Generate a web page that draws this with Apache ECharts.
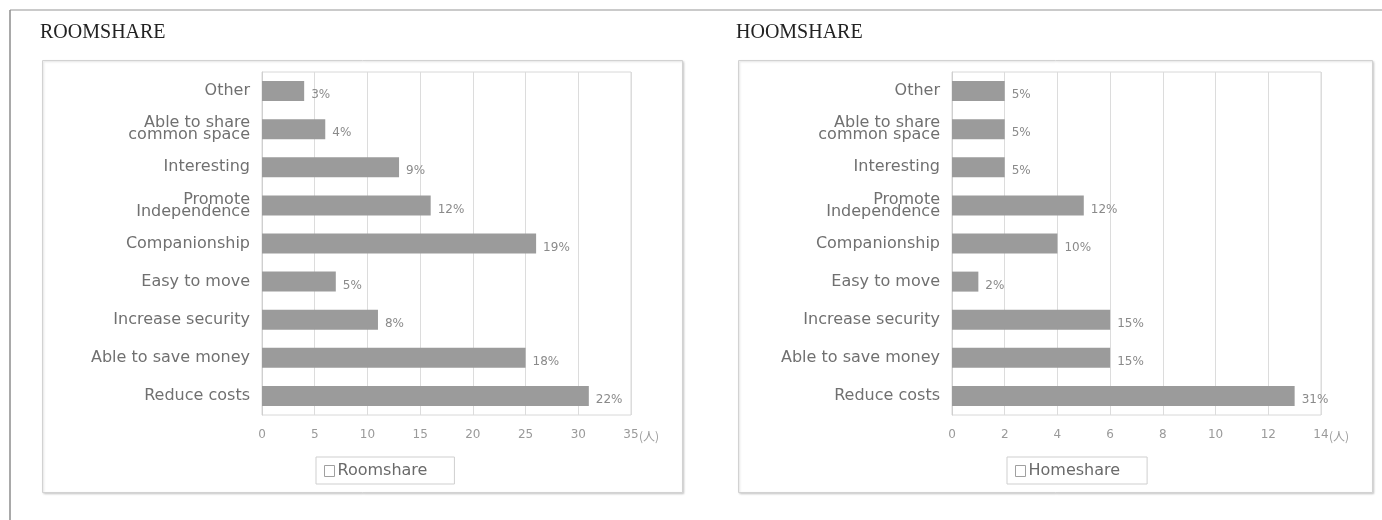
<!DOCTYPE html>
<html>
<head>
<meta charset="utf-8">
<script src="https://cdn.jsdelivr.net/npm/echarts@6/dist/echarts.min.js"></script>
<style>
html,body{margin:0;padding:0;background:#fff;}
#c{width:1382px;height:520px;}
</style>
</head>
<body>
<div id="c"></div>
<script>
const categories = ['Other', 'Able to share\ncommon space', 'Interesting', 'Promote\nIndependence', 'Companionship', 'Easy to move', 'Increase security', 'Able to save money', 'Reduce costs'];
const roomValues = [4, 6, 13, 16, 26, 7, 11, 25, 31];
const roomPct = ['3%', '4%', '9%', '12%', '19%', '5%', '8%', '18%', '22%'];
const homeValues = [2, 2, 2, 5, 4, 1, 6, 6, 13];
const homePct = ['5%', '5%', '5%', '12%', '10%', '2%', '15%', '15%', '31%'];
const roomTicks = {min: 0, max: 35, interval: 5};
const homeTicks = {min: 0, max: 14, interval: 2};
const titles = ['ROOMSHARE', 'HOOMSHARE'];
const seriesNames = ['Roomshare', 'Homeshare'];
const unitLabel = '(人)';

const chart = echarts.init(document.getElementById('c'), null, {renderer: 'canvas'});
const sans = 'DejaVu Sans';

function xAxis(idx, t) {
  return {
    type: 'value', gridIndex: idx, min: t.min, max: t.max, interval: t.interval,
    axisLine: {show: false}, axisTick: {show: false},
    splitLine: {show: true, lineStyle: {color: '#dcdcdc', width: 1}},
    axisLabel: {color: '#9a9a9a', fontSize: 12, margin: 14, fontFamily: sans},
    name: unitLabel, nameLocation: 'end', nameGap: 8, nameMoveOverlap: false,
    nameTextStyle: {color: '#9a9a9a', fontSize: 12, fontFamily: 'Noto Sans CJK JP', verticalAlign: 'top', lineHeight: 42}
  };
}
function yAxis(idx) {
  return {
    type: 'category', gridIndex: idx, data: categories, inverse: true,
    axisLine: {show: true, lineStyle: {color: '#cfcfcf'}}, axisTick: {show: false},
    axisLabel: {color: '#707070', fontSize: 16, lineHeight: 12, margin: 12, fontFamily: sans}
  };
}
function series(idx, vals, pct, name) {
  return {
    type: 'bar', name: name, xAxisIndex: idx, yAxisIndex: idx, data: vals,
    barWidth: 20, itemStyle: {color: '#9b9b9b'},
    label: {show: true, position: 'right', distance: 7, offset: [0, 4],
      fontSize: 12, color: '#8a8a8a', fontFamily: sans,
      formatter: p => pct[p.dataIndex]}
  };
}
function legend(left, name) {
  return {
    left: left, top: 457, orient: 'horizontal',
    data: [{name: name, icon: 'rect', itemStyle: {color: '#fff', borderColor: '#a0a0a0', borderWidth: 1}}],
    itemWidth: 10, itemHeight: 11, itemGap: 4,
    borderColor: '#cfcfcf', borderWidth: 1, borderRadius: 0,
    padding: [6, 27, 5, 8],
    textStyle: {color: '#6a6a6a', fontSize: 16, fontFamily: sans, padding: [0, 0, 0, -2]},
    selectedMode: false
  };
}

const option = {
  backgroundColor: '#fff',
  animation: false,
  title: [
    {text: titles[0], left: 40, top: 23, padding: 0, textStyle: {fontFamily: 'Liberation Serif', fontSize: 20, fontWeight: 'normal', color: '#222'}},
    {text: titles[1], left: 736, top: 23, padding: 0, textStyle: {fontFamily: 'Liberation Serif', fontSize: 20, fontWeight: 'normal', color: '#222'}}
  ],
  graphic: [
    {type: 'line', shape: {x1: 10, y1: 10, x2: 1382, y2: 10}, style: {stroke: '#b8b8b8', lineWidth: 1.5}, z: -10, silent: true},
    {type: 'line', shape: {x1: 10, y1: 10, x2: 10, y2: 520}, style: {stroke: '#8c8c8c', lineWidth: 1.5}, z: -10, silent: true},
    {type: 'rect', shape: {x: 42.5, y: 60.5, width: 640, height: 432}, style: {fill: '#fff', stroke: '#d2d2d2', lineWidth: 1, shadowBlur: 2, shadowColor: 'rgba(0,0,0,0.15)', shadowOffsetX: 1, shadowOffsetY: 1}, z: -10, silent: true},
    {type: 'rect', shape: {x: 738.5, y: 60.5, width: 634, height: 432}, style: {fill: '#fff', stroke: '#d2d2d2', lineWidth: 1, shadowBlur: 2, shadowColor: 'rgba(0,0,0,0.15)', shadowOffsetX: 1, shadowOffsetY: 1}, z: -10, silent: true}
  ],
  grid: [
    {left: 262, top: 72, width: 369, height: 343, show: true, borderColor: '#d8d8d8', borderWidth: 1, backgroundColor: 'transparent'},
    {left: 952, top: 72, width: 369, height: 343, show: true, borderColor: '#d8d8d8', borderWidth: 1, backgroundColor: 'transparent'}
  ],
  xAxis: [xAxis(0, roomTicks), xAxis(1, homeTicks)],
  yAxis: [yAxis(0), yAxis(1)],
  legend: [legend(316, seriesNames[0]), legend(1007, seriesNames[1])],
  series: [series(0, roomValues, roomPct, seriesNames[0]), series(1, homeValues, homePct, seriesNames[1])]
};
chart.setOption(option);
</script>
</body>
</html>
